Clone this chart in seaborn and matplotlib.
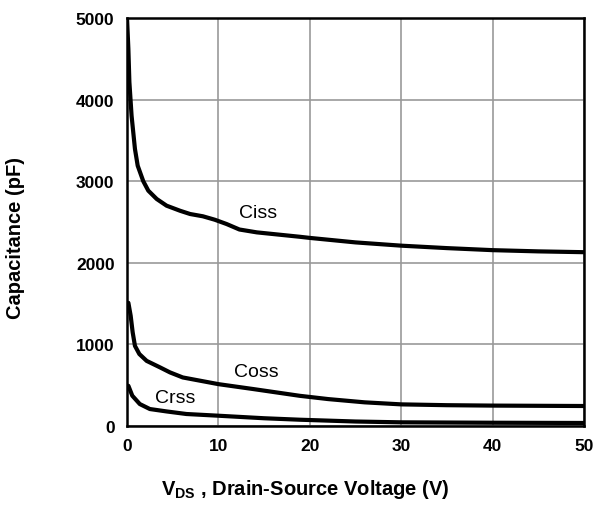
import pandas as pd
import matplotlib
matplotlib.use('Agg')
import matplotlib.pyplot as plt
import seaborn as sns

# values
ciss_v = [0, 0.15, 0.26, 0.5, 0.87, 1.17, 1.78, 2.33, 3.25, 4.33, 5.8, 6.9, 8.3, 9.6, 10.9, 12.3, 14.2,
          18.9, 20, 25, 30, 35, 40, 45, 50]
ciss_c = [5000, 4620, 4216, 3803, 3395, 3190, 3000, 2884, 2782, 2700, 2638, 2598, 2570, 2528, 2475, 2408, 2373,
          2319, 2305, 2250, 2210, 2180, 2155, 2140, 2130]

coss_v = [0, 0.15, 0.4, 0.62, 0.87, 1.35, 2.15, 3.6, 4.7, 6.1, 8, 10, 13.8, 18.9, 22, 26, 30, 35, 40, 50]
coss_c = [1500, 1510, 1352, 1148, 982, 882, 798, 719, 657, 595, 555, 513, 453, 370, 330, 290, 265, 255, 250, 245]

crss_v = [0, 0.15, 0.58, 1.4, 2.5, 4.3, 6.5, 10, 15, 18.9, 25, 30, 40, 50]
crss_c = [480, 493, 371, 269, 208, 179, 147, 126, 95, 77, 55, 45, 40, 37]

curve_names = ['Ciss', 'Coss', 'Crss']
label_pos = [(14.3, 2622), (14.1, 674), (5.3, 355)]

df = pd.concat([
    pd.DataFrame({'V': ciss_v, 'C': ciss_c, 'curve': 'Ciss'}),
    pd.DataFrame({'V': coss_v, 'C': coss_c, 'curve': 'Coss'}),
    pd.DataFrame({'V': crss_v, 'C': crss_c, 'curve': 'Crss'}),
])

sns.set_style('white')
plt.rcParams['font.family'] = ['Liberation Sans', 'DejaVu Sans']
plt.rcParams['mathtext.fontset'] = 'custom'
plt.rcParams['mathtext.bf'] = 'Liberation Sans:bold'
plt.rcParams['mathtext.rm'] = 'Liberation Sans:bold'
for k in ['text.color', 'axes.labelcolor', 'xtick.color', 'ytick.color']:
    plt.rcParams[k] = 'black'

fig = plt.figure(figsize=(6.03, 5.10), dpi=100)
ax = fig.add_axes([127 / 603, 1 - 427 / 510, 457 / 603, 408 / 510])

sns.lineplot(data=df, x='V', y='C', hue='curve', palette=['black'] * 3,
             linewidth=3, legend=False, ax=ax, estimator=None, sort=True,
             solid_joinstyle='round', solid_capstyle='butt')

for name, (x, y) in zip(curve_names, label_pos):
    ax.text(x, y, name, fontsize=14, ha='center', va='center', color='black')

ax.set_xlim(0, 50)
ax.set_ylim(0, 5000)
ax.set_xticks(range(0, 51, 10))
ax.set_yticks(range(0, 5001, 1000))
ax.grid(True, color='#999999', linewidth=1.2)
ax.set_axisbelow(True)
for s in ax.spines.values():
    s.set_color('black')
    s.set_linewidth(1.8)
ax.tick_params(length=0, pad=9, labelsize=12.5)
for lab in ax.get_xticklabels() + ax.get_yticklabels():
    lab.set_fontweight('bold')

ax.set_xlabel(r'V$_{\mathbf{DS}}$ , Drain-Source Voltage (V)', fontsize=14.5, fontweight='bold')
ax.set_ylabel('Capacitance (pF)', fontsize=14.5, fontweight='bold')
ax.xaxis.set_label_coords(0.39, -0.125)
ax.yaxis.set_label_coords(-0.223, 0.463)

fig.savefig('out.png', dpi=100)
